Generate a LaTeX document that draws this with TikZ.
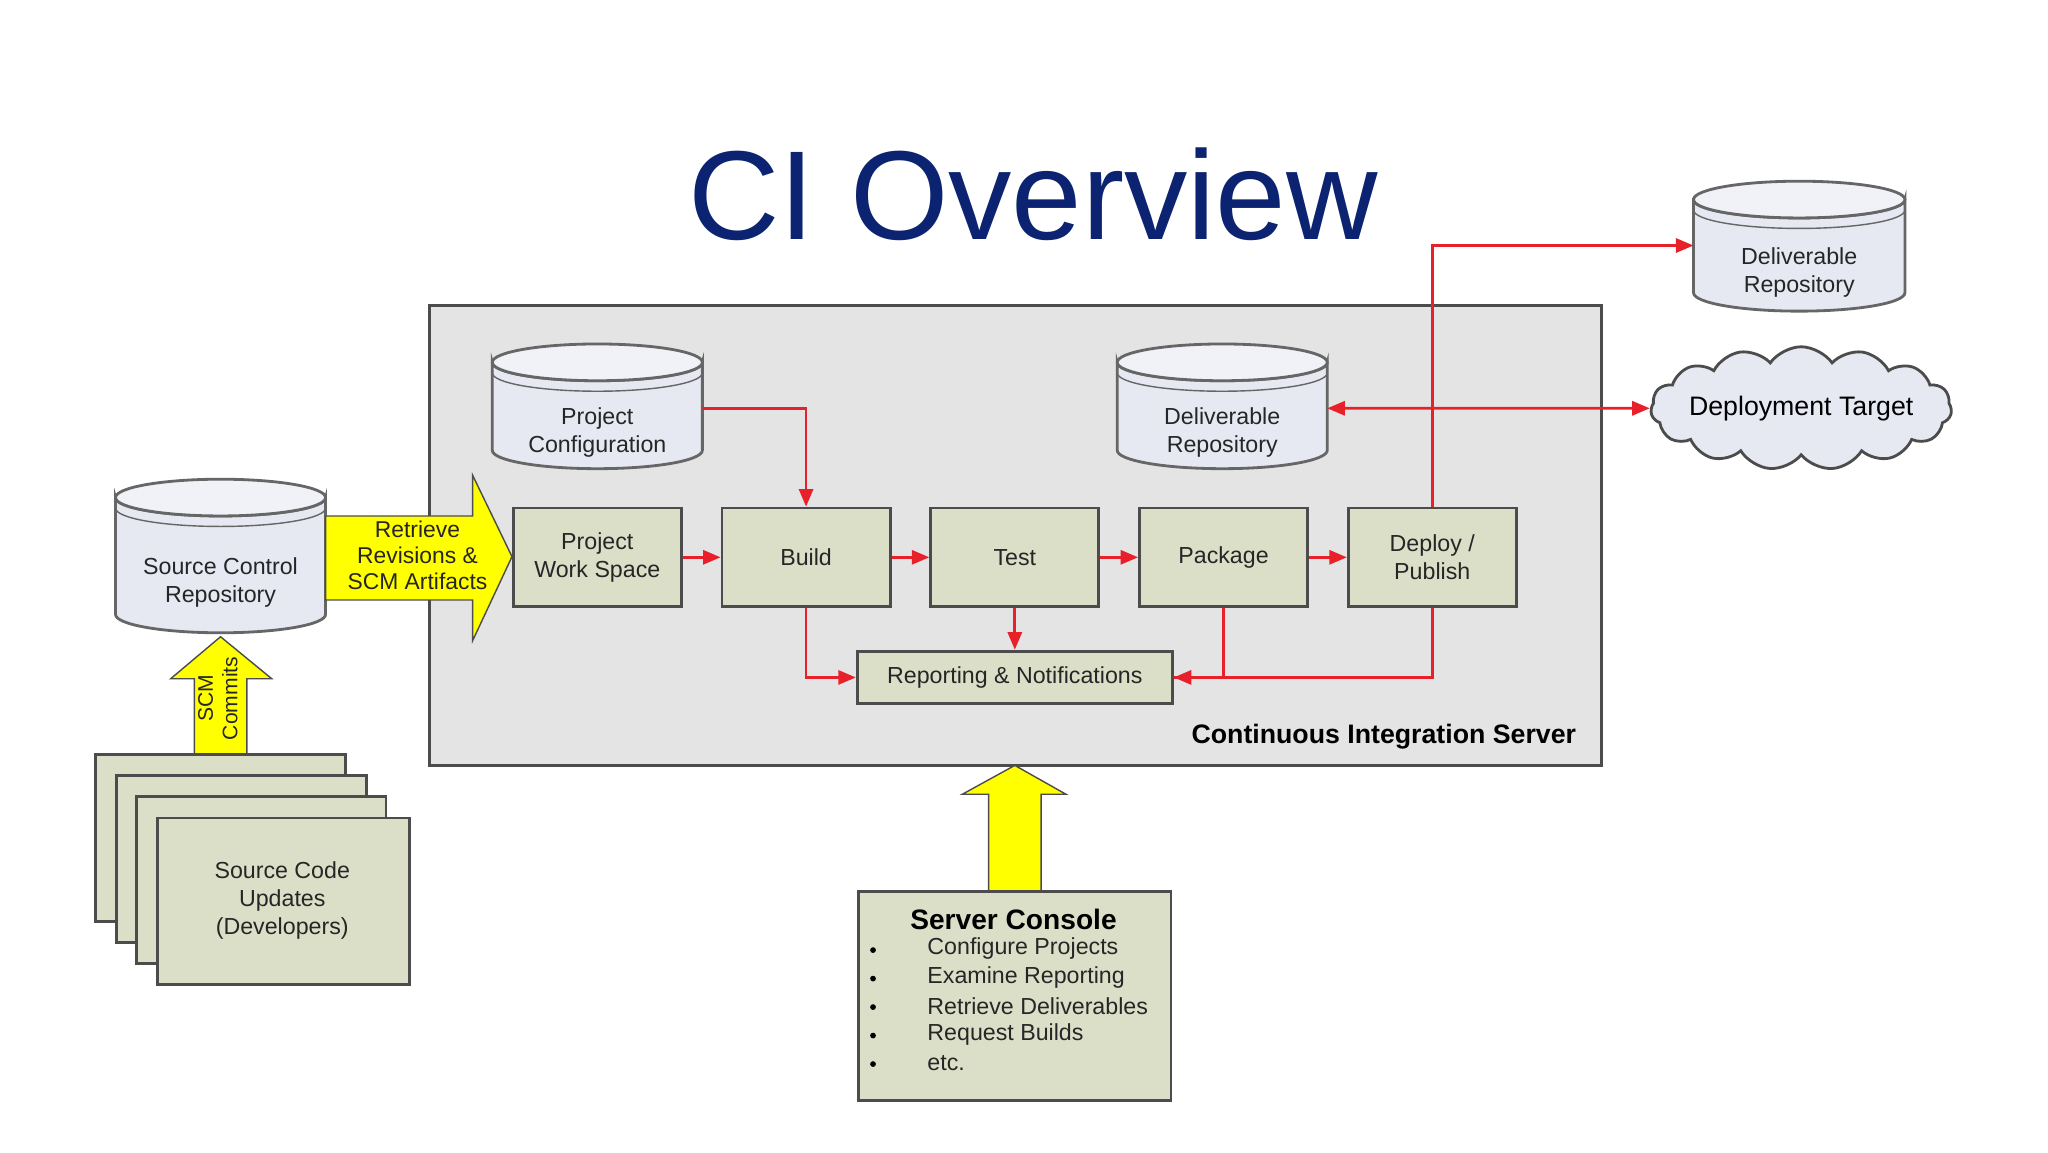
\documentclass[tikz,border=0pt]{standalone}
\usepackage{fontspec}
\setmainfont{Liberation Sans}
\usetikzlibrary{shapes.symbols,arrows.meta}
\definecolor{boxg}{HTML}{DCDFC8}
\definecolor{cylf}{HTML}{E6E9F2}
\definecolor{srv}{HTML}{E4E4E4}
\definecolor{ttl}{HTML}{0B2370}
\definecolor{ylw}{HTML}{FFFF00}
\definecolor{rd}{HTML}{E8202A}
\def\u{0.013128cm}
\newcommand\mycyl[5]{% x1 y1 x2 y2 name
  \pgfmathsetmacro\cx{(#1+#3)/2}\pgfmathsetmacro\rx{(#3-#1)/2}
  \fill[cylf,draw=gray!80!black,thick] (#1,#2+14) -- (#1,#4-14) arc[start angle=180,end angle=0,x radius=\rx,y radius=14] -- (#3,#2+14) arc[start angle=0,end angle=180,x radius=\rx,y radius=14] -- cycle;
  \draw[gray!80!black,thick,fill=cylf!60!white] (\cx,#2+14) ellipse[x radius=\rx,y radius=14];
  \draw[gray!80!black] (#1,#2+22) arc[start angle=180,end angle=0,x radius=\rx,y radius=14];
  \coordinate (#5) at (\cx,{(#2+#4)/2+20});
}
\tikzset{
  txt/.style={font=\fontsize{6.6}{7.9}\selectfont,align=center,text=black!85},
  box/.style={txt,draw=gray!60!black,thick,fill=boxg,minimum width=128*\u,minimum height=75*\u,inner sep=0pt},
  ra/.style={rd,thick,-{Triangle[length=5pt,width=4pt]}},
  yarrow/.style={fill=ylw,draw=gray!60!black,thin}
}
\begin{document}
\begin{tikzpicture}[x=\u,y=-\u]
\useasboundingbox (0,0) rectangle (1560,877.5);
\fill[white] (0,0) rectangle (1560,877.5);
\node[text=ttl,font=\fontsize{36}{40}\selectfont] (title) at (787,148) {CI Overview};
% server
\draw[fill=srv,draw=gray!60!black,thick] (327,233) rectangle (1220,583);
\node[anchor=east,font=\bfseries\fontsize{7.6}{9}\selectfont] (cis) at (1210,561) {Continuous Integration Server};
% cylinders
\mycyl{375}{262}{535}{357}{pc}
\node[txt] (pct) at (pc) {Project\\Configuration};
\mycyl{851}{262}{1011}{357}{dr}
\node[txt] (drt) at (dr) {Deliverable\\Repository};
\mycyl{1290}{138}{1451}{237}{dr2}
\node[txt] (dr2t) at (dr2) {Deliverable\\Repository};
\mycyl{88}{365}{248}{482}{scr}
\node[txt] (scrt) at (scr) {Source Control\\Repository};
% boxes
\node[box] (pws) at (455,424.5) {Project\\Work Space};
\node[box] (build) at (614,424.5) {Build};
\node[box] (test) at (773,424.5) {Test};
\node[box] (pkg) at (932,424.5) {Package};
\node[box] (dep) at (1091,424.5) {Deploy /\\Publish};
\node[box,minimum width=240*\u,minimum height=40*\u] (rep) at (773,516) {Reporting \& Notifications};
% cloud
\node[cloud,cloud puffs=15,cloud puff arc=110,aspect=3.2,draw=gray!60!black,thick,fill=cylf,minimum width=200*\u,minimum height=55*\u,inner sep=-2pt,font=\fontsize{7.6}{9}\selectfont] (dt) at (1372,311) {Deployment Target};
% red connectors
\draw[ra] (pws) -- (build);
\draw[ra] (build) -- (test);
\draw[ra] (test) -- (pkg);
\draw[ra] (pkg) -- (dep);
\coordinate (pcr) at (535,311);
\draw[ra] (pcr) -| (build.north);
\draw[ra] (build.south) |- (rep.west);
\draw[ra] (test.south) -- (rep.north);
\draw[ra] (dep.south) |- (rep.east);
\draw[rd,thick] (pkg.south) |- (rep.east);
\coordinate (drr) at (1011,311);
\draw[rd,thick,{Triangle[length=5pt,width=4pt]}-{Triangle[length=5pt,width=4pt]}] (drr) -- (dt.west);
\coordinate (dr2l) at (1290,187);
\draw[ra] (dep.north) |- (dr2l);
% yellow arrows
\draw[yarrow] (248,393) -- (360,393) -- (360,362) -- (390,424) -- (360,488) -- (360,457) -- (248,457) -- cycle;
\node[txt,font=\fontsize{6.5}{7.5}\selectfont] (ret) at (318,423) {Retrieve\\Revisions \&\\SCM Artifacts};
\draw[yarrow] (148,575) -- (148,517) -- (130,517) -- (168,485) -- (207,517) -- (188,517) -- (188,575) -- cycle;
\node[txt,rotate=90,font=\fontsize{6}{7}\selectfont] (scm) at (166,532) {SCM\\Commits};
\draw[yarrow] (753,680) -- (753,605) -- (733,605) -- (773,583) -- (812,605) -- (793,605) -- (793,680) -- cycle;
% pages
\foreach \dx/\dy in {0/0,16/16,31/32}{
  \draw[fill=boxg,draw=gray!60!black,thick] (73+\dx,575+\dy) rectangle (263+\dx,702+\dy);}
\draw[fill=boxg,draw=gray!60!black,thick] (120,623) rectangle (312,750);
\node[txt] (scu) at (215,686) {Source Code\\Updates\\(Developers)};
% server console
\draw[fill=boxg,draw=gray!60!black,thick] (654,679) rectangle (892,838);
\node[font=\bfseries\fontsize{8}{9.5}\selectfont] (sct) at (772,700) {Server Console};
\foreach \t [count=\i] in {Configure Projects,Examine Reporting,Retrieve Deliverables,Request Builds,etc.}{
  \node[txt,anchor=west] (b\i) at (697,{701+21.7*\i}) {\t};
  \fill (665,{702+21.7*\i}) circle[radius=2.2];}
\end{tikzpicture}
\end{document}
